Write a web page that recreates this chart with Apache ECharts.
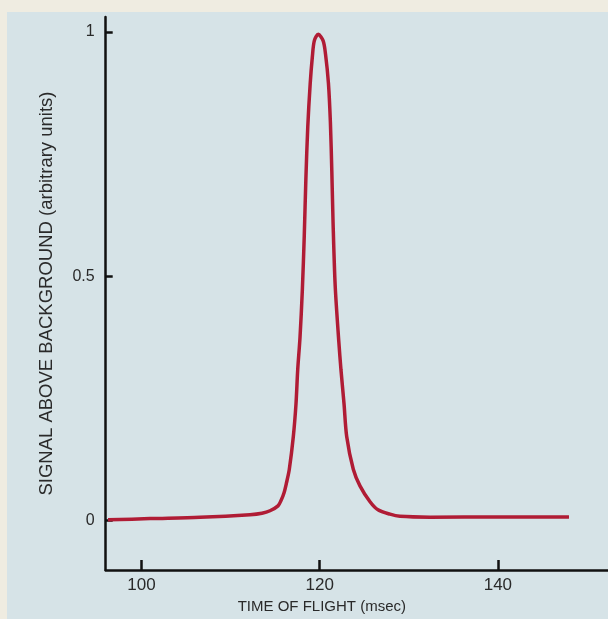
<!DOCTYPE html>
<html>
<head>
<meta charset="utf-8">
<script src="https://cdn.jsdelivr.net/npm/echarts@6/dist/echarts.min.js"></script>
<style>
  html, body { margin: 0; padding: 0; width: 608px; height: 619px; overflow: hidden; background: #efece1; }
  #bg { position: absolute; left: 7px; top: 12px; width: 601px; height: 607px; background: #d6e3e7; }
  #chart { position: absolute; left: 0; top: 0; width: 608px; height: 619px; }
</style>
</head>
<body>
<div id="bg"></div>
<div id="chart"></div>
<script>
// Time of flight (msec)
const timeMs = [96.24, 100.95, 106.57, 112.18, 113.52, 114.42, 115.32, 115.66, 116.0, 116.27, 116.59,
  117.04, 117.34, 117.53, 117.79, 118.05, 118.27, 118.45, 118.66, 118.93, 119.18, 119.4, 119.84,
  120.38, 120.65, 120.98, 121.2, 121.36, 121.5, 121.74, 122.15, 122.39, 122.73, 123.03, 123.77,
  124.52, 125.65, 126.54, 127.89, 129.01, 132.4, 140.0, 147.98];
// Signal above background (arbitrary units)
const signal = [0.0014, 0.004, 0.0067, 0.012, 0.015, 0.020, 0.030, 0.041, 0.057, 0.077, 0.105,
  0.172, 0.239, 0.308, 0.375, 0.471, 0.584, 0.700, 0.805, 0.893, 0.950, 0.982, 0.995,
  0.982, 0.955, 0.895, 0.815, 0.715, 0.610, 0.480, 0.365, 0.308, 0.239, 0.172, 0.105,
  0.071, 0.0385, 0.022, 0.013, 0.0087, 0.007, 0.0072, 0.0075];
const xTicks = [100, 120, 140];
const yTicks = [0, 0.5, 1];
const xName = 'TIME OF FLIGHT (msec)';
const yName = 'SIGNAL ABOVE BACKGROUND (arbitrary units)';

const points = timeMs.map((t, i) => [t, signal[i]]);
const font = 'Liberation Sans, Arial, Helvetica, sans-serif';
const chart = echarts.init(document.getElementById('chart'), null, { renderer: 'canvas' });
chart.setOption({
  backgroundColor: 'transparent',
  animation: false,
  grid: { left: 105.7, right: 0, top: 17, bottom: 44, containLabel: false },
  xAxis: {
    type: 'value', min: 95.98, max: 152.36,
    axisLine: { show: true, onZero: false, lineStyle: { color: '#111', width: 2.5 } },
    axisTick: { show: true, inside: true, length: 10, customValues: xTicks, lineStyle: { color: '#111', width: 2.5 } },
    axisLabel: { show: true, customValues: xTicks, margin: 7, color: '#2a2a2a', fontSize: 17, fontFamily: font },
    splitLine: { show: false },
    name: xName, nameLocation: 'middle', nameGap: 26,
    nameTextStyle: { color: '#2a2a2a', fontSize: 15, fontFamily: font, padding: [0, 70, 0, 0] }
  },
  yAxis: {
    type: 'value', min: -0.1014, max: 1.0304,
    axisLine: { show: true, onZero: false, lineStyle: { color: '#111', width: 2.5 } },
    axisTick: { show: true, inside: true, length: 7, customValues: yTicks, lineStyle: { color: '#111', width: 2.5 } },
    axisLabel: { show: true, customValues: yTicks, margin: 11, color: '#2a2a2a', fontSize: 16, fontFamily: font,
      formatter: v => String(v) },
    splitLine: { show: false },
    name: yName, nameLocation: 'middle', nameGap: 49, nameRotate: 90,
    nameTextStyle: { color: '#2a2a2a', fontSize: 18.5, fontFamily: font }
  },
  series: [{
    type: 'line', data: points, showSymbol: false, symbol: 'none',
    smooth: 0.3,
    lineStyle: { color: '#b01c35', width: 3.5 }
  }]
});
</script>
</body>
</html>
